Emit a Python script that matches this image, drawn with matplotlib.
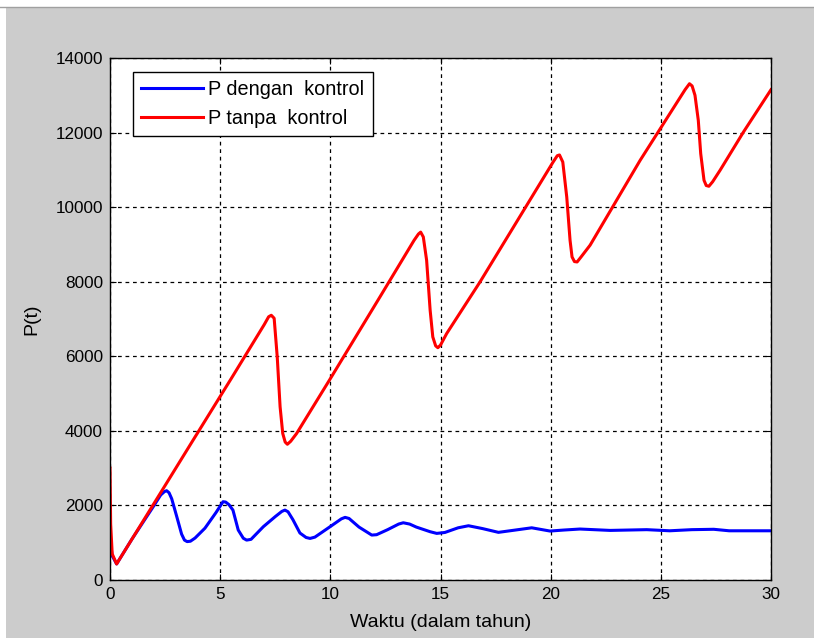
import matplotlib.pyplot as plt
from matplotlib.patches import Rectangle
from matplotlib.lines import Line2D

plt.rcParams['font.family'] = ['Liberation Sans', 'DejaVu Sans']

# population with control (blue)
t_kontrol = [0, 0.02, 0.1, 0.3, 1.0, 2.0, 2.3, 2.47, 2.57, 2.68, 2.8, 3.03, 3.25, 3.38,
             3.5, 3.65, 3.86, 4.31, 4.8, 5.0, 5.13, 5.25, 5.4, 5.58, 5.82, 6.05, 6.2,
             6.4, 6.96, 7.5, 7.8, 7.94, 8.08, 8.3, 8.62, 8.9, 9.08, 9.3, 9.99, 10.5,
             10.67, 10.85, 11.3, 11.88, 12.1, 12.6, 13.1, 13.31, 13.6, 13.9, 14.53,
             14.83, 15.2, 15.8, 16.27, 16.9, 17.63, 18.4, 19.14, 19.97, 20.6, 21.33,
             22.7, 24.36, 25.4, 26.4, 27.4, 28.1, 30]
p_kontrol = [1200, 1000, 650, 430, 1100, 2000, 2280, 2370, 2395, 2340, 2180, 1700, 1230,
             1070, 1030, 1040, 1125, 1390, 1800, 1980, 2100, 2090, 2020, 1875, 1340, 1120,
             1070, 1090, 1430, 1700, 1840, 1875, 1830, 1620, 1260, 1140, 1115, 1150, 1430,
             1640, 1680, 1650, 1420, 1205, 1215, 1350, 1500, 1535, 1500, 1420, 1295,
             1250, 1275, 1400, 1455, 1380, 1278, 1340, 1400, 1313, 1340, 1367,
             1330, 1350, 1320, 1350, 1360, 1320, 1320]

# population without control (red)
t_tanpa = [0, 0.03, 0.1, 0.3, 1.0, 2.35, 3.77, 5.5, 7.0, 7.2, 7.32, 7.45, 7.59, 7.72,
           7.84, 7.95, 8.05, 8.2, 8.47, 10, 12.26, 13.8, 14.0, 14.1, 14.22, 14.37, 14.53,
           14.65, 14.78, 14.88, 15.0, 15.28, 16.8, 18.76, 20.1, 20.3, 20.4, 20.55, 20.73,
           20.88, 20.97, 21.08, 21.2, 21.4, 21.79, 24.06, 26.1, 26.3, 26.42, 26.55, 26.7,
           26.81, 26.96, 27.06, 27.18, 27.35, 27.69, 28.75, 30]
p_tanpa = [3000, 1500, 700, 430, 1100, 2390, 3750, 5400, 6850, 7060, 7100, 7020, 5985,
           4645, 3930, 3700, 3640, 3720, 3930, 5400, 7600, 9110, 9280, 9330, 9200, 8575,
           7235, 6520, 6280, 6230, 6300, 6610, 8000, 9900, 11200, 11380, 11400, 11210,
           10270, 9110, 8665, 8540, 8530, 8680, 8980, 11255, 13150, 13310, 13250, 13000,
           12330, 11435, 10720, 10580, 10560, 10680, 10990, 12015, 13150]

fig = plt.figure(figsize=(8.14, 6.38), dpi=100, facecolor='white')
# grey window area with a thin darker edge on top
fig.patches.append(Rectangle((6 / 814, 0), 1, 630 / 638, transform=fig.transFigure,
                             facecolor='#cccccc', edgecolor='none', zorder=-10))
fig.add_artist(Line2D([0, 1], [631 / 638, 631 / 638], transform=fig.transFigure,
                      color='#a0a0a0', lw=1.0))

ax = fig.add_axes([110 / 814, 58 / 638, 661 / 814, 522 / 638])
ax.plot(t_kontrol, p_kontrol, color='#0000ff', lw=2.2, label='P dengan  kontrol')
ax.plot(t_tanpa, p_tanpa, color='#ff0000', lw=2.2, label='P tanpa  kontrol')

ax.set_xlim(0, 30)
ax.set_ylim(0, 14000)
ax.set_xticks(range(0, 31, 5))
ax.set_yticks(range(0, 14001, 2000))
ax.grid(True, color='black', linestyle=(0, (3, 3)), lw=0.9)
ax.tick_params(direction='in', top=True, right=True, length=4, labelsize=12.3,
               pad=5, color='black')
for s in ax.spines.values():
    s.set_linewidth(1.0)

ax.set_xlabel('Waktu (dalam tahun)', fontsize=14, labelpad=9)
ax.set_ylabel('P(t)', fontsize=14, labelpad=11)

leg = ax.legend(loc='upper left', bbox_to_anchor=(23 / 661, 508 / 522), borderaxespad=0,
                fancybox=False, edgecolor='black', framealpha=1, fontsize=14.3,
                handlelength=3.1, handletextpad=0.3, borderpad=0.4, labelspacing=0.5)
leg.get_frame().set_linewidth(1.0)

fig.savefig('out.png', dpi=100, facecolor=fig.get_facecolor())
